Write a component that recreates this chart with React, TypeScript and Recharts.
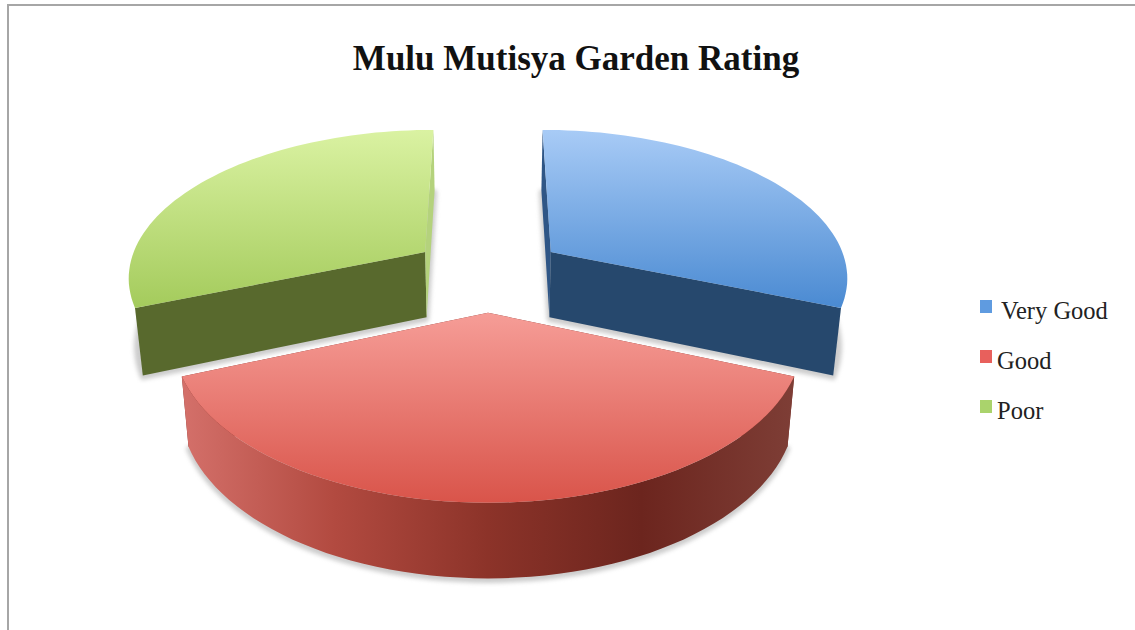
import { Legend, Pie, PieChart } from "recharts";

const categories = ["Very Good", "Good", "Poor"];
const ratings = [14, 17, 14];

const FONT = "'Liberation Serif', serif";
const LEGEND_COLORS: Record<string, string> = {
  "Very Good": "#5f9be0",
  Good: "#e8605c",
  Poor: "#aad36c",
};
const FACE_COLORS: Record<string, string> = {
  "Very Good": "#26486d",
  Good: "#7c2c25",
  Poor: "#58692d",
};
const BACK_COLORS: Record<string, string> = {
  "Very Good": "#2f5686",
  Good: "#7c2c25",
  Poor: "#b4d27c",
};
const GRAD_IDS: Record<string, string> = {
  "Very Good": "topBlue",
  Good: "topRed",
  Poor: "topGreen",
};

const data = categories.map((name, i) => ({ name, value: ratings[i] }));

// fake 3d: pie angles from recharts, pushed through a small perspective
const EXPLODE = 0.26;
const PERSPECTIVE = 6.5;
const TILT = 147 / 298;
const BOTTOM_SHRINK = 0.978;

type Pt = { x: number; y: number };

function project(wx: number, wy: number, cx: number, cy: number, r: number, low: boolean): Pt {
  const s = 1 / (1 - wy / PERSPECTIVE);
  const x = wx * r * s;
  const y = wy * r * TILT * s;
  if (!low) return { x: cx + x, y: cy + y };
  return { x: cx + x * BOTTOM_SHRINK, y: cy + y + 26 + 40 * s };
}

function outline(props: any) {
  const { cx, cy, outerRadius, startAngle, endAngle } = props;
  const mid = (((startAngle + endAngle) / 2) * Math.PI) / 180;
  const ox = EXPLODE * Math.cos(mid);
  const oy = -EXPLODE * Math.sin(mid);
  const at = (deg: number, rr: number, low: boolean) => {
    const a = (deg * Math.PI) / 180;
    return project(ox + rr * Math.cos(a), oy - rr * Math.sin(a), cx, cy, outerRadius, low);
  };
  const arc = (low: boolean) => {
    const pts: Pt[] = [];
    const n = 60;
    for (let i = 0; i <= n; i++) {
      pts.push(at(startAngle + ((endAngle - startAngle) * i) / n, 1, low));
    }
    return pts;
  };
  return { at, arc };
}

const toPath = (pts: Pt[]) =>
  "M" + pts.map((p) => `${p.x.toFixed(1)},${p.y.toFixed(1)}`).join("L") + "Z";

function ShadowShape(props: any) {
  const { at, arc } = outline(props);
  const d = toPath([at(0, 0, true), ...arc(true)]);
  return (
    <path
      d={d}
      transform="translate(0,2)"
      fill="#9a9a9a"
      stroke="#9a9a9a"
      strokeWidth={5}
      strokeLinejoin="round"
      opacity={0.5}
      filter="url(#softShadow)"
    />
  );
}

function SliceShape(props: any) {
  const { startAngle, endAngle } = props;
  const name = props.payload?.name ?? props.name;
  const { at, arc } = outline(props);
  const topArc = arc(false);
  const lowArc = arc(true);
  const apexTop = at(0, 0, false);
  const apexLow = at(0, 0, true);
  const startFace = [apexTop, at(startAngle, 1, false), at(startAngle, 1, true), apexLow];
  const endFace = [apexTop, at(endAngle, 1, false), at(endAngle, 1, true), apexLow];
  const wall = [...topArc, ...[...lowArc].reverse()];
  const isBlue = name === "Very Good";
  const isRed = name === "Good";
  return (
    <g>
      <path d={toPath(startFace)} fill={isBlue ? BACK_COLORS[name] : FACE_COLORS[name]} />
      <path d={toPath(endFace)} fill={isBlue ? FACE_COLORS[name] : BACK_COLORS[name]} />
      {isRed && <path d={toPath(wall)} fill="url(#wallRed)" />}
      <path d={toPath([apexTop, ...topArc])} fill={`url(#${GRAD_IDS[name]})`} />
    </g>
  );
}

function LegendList() {
  return (
    <div style={{ fontFamily: FONT, fontSize: 24.5, color: "#222" }}>
      {categories.map((name, i) => (
        <div key={name} style={{ position: "relative", height: 50 }}>
          <span
            style={{
              position: "absolute",
              left: 0,
              top: 0,
              width: 12,
              height: 13,
              background: LEGEND_COLORS[name],
            }}
          />
          <span style={{ position: "absolute", left: i === 0 ? 21 : 17, top: -3, whiteSpace: "nowrap" }}>
            {name}
          </span>
        </div>
      ))}
    </div>
  );
}

export default function App() {
  return (
    <div style={{ position: "absolute", left: 0, top: 0, width: 1135, height: 630, background: "#fff", overflow: "hidden" }}>
      <div
        style={{
          position: "absolute",
          left: 7,
          top: 4,
          right: 0,
          bottom: 0,
          borderLeft: "2px solid #a6a6a6",
          borderTop: "2px solid #a6a6a6",
        }}
      />
      <PieChart
        width={1135}
        height={630}
        margin={{ top: 0, right: 0, bottom: 0, left: 0 }}
        style={{ position: "absolute", left: 0, top: 0 }}
      >
        <defs>
          <linearGradient id="topBlue" x1="0" y1="0" x2="0" y2="1">
            <stop offset="0" stopColor="#a8cbf6" />
            <stop offset="1" stopColor="#4a8ad2" />
          </linearGradient>
          <linearGradient id="topRed" x1="0" y1="0" x2="0" y2="1">
            <stop offset="0" stopColor="#f69d97" />
            <stop offset="1" stopColor="#d9544a" />
          </linearGradient>
          <linearGradient id="topGreen" x1="0" y1="0" x2="0" y2="1">
            <stop offset="0" stopColor="#daf2a2" />
            <stop offset="1" stopColor="#a4cb5c" />
          </linearGradient>
          <linearGradient id="wallRed" x1="0" y1="0" x2="1" y2="0">
            <stop offset="0" stopColor="#d4706a" />
            <stop offset="0.25" stopColor="#b24a40" />
            <stop offset="0.5" stopColor="#8c3329" />
            <stop offset="0.75" stopColor="#6c251e" />
            <stop offset="1" stopColor="#7e3e36" />
          </linearGradient>
          <filter id="softShadow" x="-10%" y="-10%" width="120%" height="120%">
            <feGaussianBlur stdDeviation="2.2" />
          </filter>
        </defs>
        <text
          x={576}
          y={70}
          textAnchor="middle"
          fontFamily={FONT}
          fontWeight="bold"
          fontSize={35}
          fill="#111"
        >
          Mulu Mutisya Garden Rating
        </text>
        <Pie
          data={data}
          dataKey="value"
          nameKey="name"
          cx={488}
          cy={273}
          outerRadius={298}
          startAngle={90}
          endAngle={-270}
          legendType="none"
          shape={ShadowShape}
          stroke="none"
          isAnimationActive={false}
        />
        <Pie
          data={data}
          dataKey="value"
          nameKey="name"
          cx={488}
          cy={273}
          outerRadius={298}
          startAngle={90}
          endAngle={-270}
          shape={SliceShape}
          stroke="none"
          isAnimationActive={false}
        />
        <Legend
          content={LegendList}
          wrapperStyle={{ position: "absolute", left: 980, top: 300, width: 150, height: 150 }}
        />
      </PieChart>
    </div>
  );
}
